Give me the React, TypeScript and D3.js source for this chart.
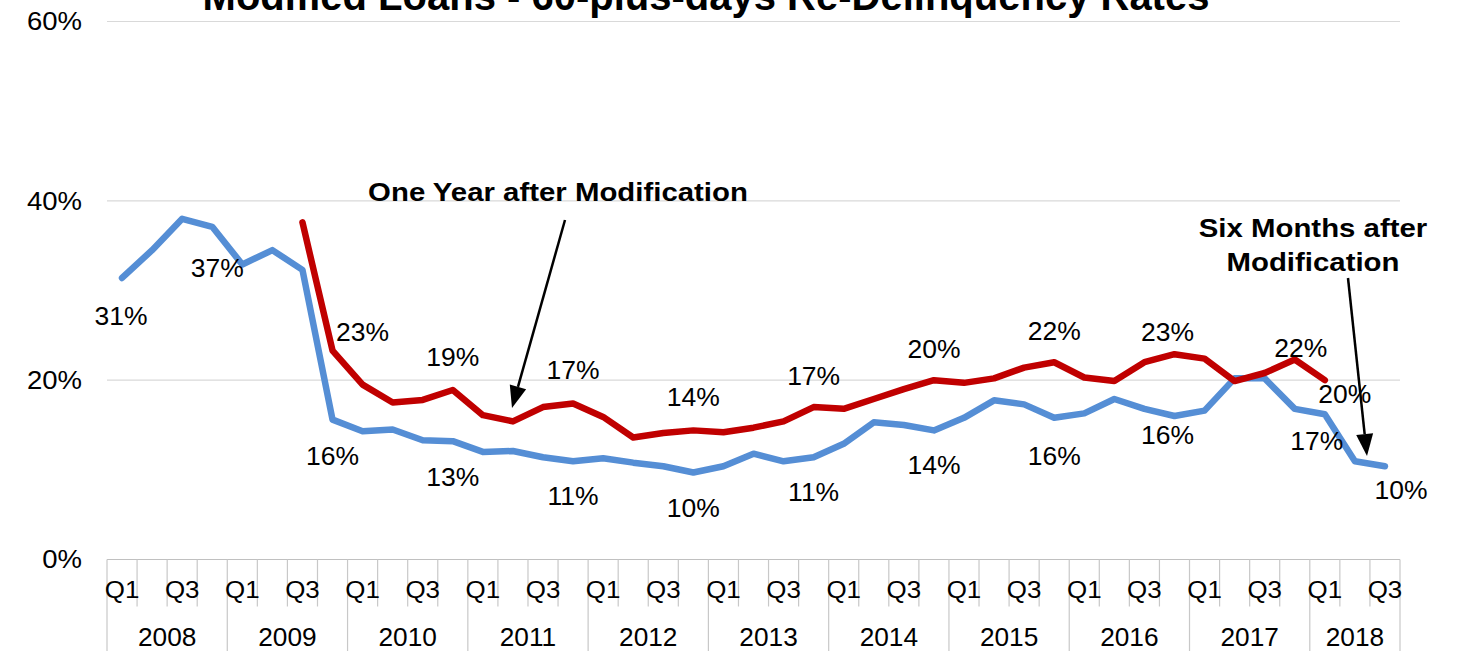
import React from "react";
import * as d3 from "d3";

const years = ["2008", "2009", "2010", "2011", "2012", "2013", "2014", "2015", "2016", "2017", "2018"];
const quarterNames = ["Q1", "Q2", "Q3", "Q4"];
const quarterTickText = ["Q1", "", "Q3", ""];
const quartersInYear = [4, 4, 4, 4, 4, 4, 4, 4, 4, 4, 3];

// Six Months after Modification (2008 Q1 .. 2018 Q3), percent
const sixMonths = [
  31.4, 34.5, 38.0, 37.1, 32.9, 34.5, 32.3, 15.6, 14.3, 14.5, 13.3,
  13.2, 12.0, 12.1, 11.4, 10.95, 11.3, 10.8, 10.4, 9.7, 10.4, 11.8,
  10.95, 11.4, 12.9, 15.3, 15.0, 14.4, 15.8, 17.75, 17.3, 15.8, 16.3,
  17.9, 16.8, 16.0, 16.6, 20.2, 20.2, 16.8, 16.2, 10.95, 10.4,
];

// One Year after Modification (2009 Q3 .. 2018 Q1), percent
const oneYearStart = 6;
const oneYear = [
  37.6, 23.3, 19.5, 17.5, 17.8, 18.9, 16.1, 15.4, 17.0, 17.4, 15.9,
  13.6, 14.1, 14.4, 14.2, 14.7, 15.4, 17.0, 16.8, 17.9, 19.0, 20.0,
  19.7, 20.2, 21.4, 22.0, 20.3, 19.9, 22.0, 22.9, 22.4, 19.9, 20.8,
  22.3, 20.0,
];

const yTicks = [0, 20, 40, 60];

// label placement (index into categories, offset of label centre from point)
const blueLabels = [
  { i: 0, dx: -1, dy: 38 },
  { i: 3, dx: 5, dy: 41 },
  { i: 7, dx: 0, dy: 37 },
  { i: 11, dx: 0, dy: 36 },
  { i: 15, dx: 0, dy: 35 },
  { i: 19, dx: 0, dy: 36 },
  { i: 23, dx: 0, dy: 35 },
  { i: 27, dx: 0, dy: 35 },
  { i: 31, dx: 0, dy: 38 },
  { i: 35, dx: -7, dy: 19 },
  { i: 39, dx: 22, dy: 32 },
  { i: 42, dx: 16, dy: 24 },
];
const redLabels = [
  { i: 7, dx: 30, dy: -18 },
  { i: 11, dx: 0, dy: -33 },
  { i: 15, dx: 0, dy: -33 },
  { i: 19, dx: 0, dy: -33 },
  { i: 23, dx: 0, dy: -31 },
  { i: 27, dx: 0, dy: -31 },
  { i: 31, dx: 0, dy: -31 },
  { i: 35, dx: -7, dy: -22 },
  { i: 39, dx: 6, dy: -11 },
  { i: 40, dx: 20, dy: 14 },
];

const categories: string[] = years.flatMap((y, yi) =>
  quarterNames.slice(0, quartersInYear[yi]).map((q) => `${y} ${q}`)
);

const FONT = "'Liberation Sans', Arial, Helvetica, sans-serif";
const BLUE = "#558ED5";
const RED = "#C00000";

function Txt(props: {
  x: number;
  y: number;
  size: number;
  sx?: number;
  anchor?: "start" | "middle" | "end";
  bold?: boolean;
  dy?: string;
  children: React.ReactNode;
}) {
  const { x, y, size, sx = 1, anchor = "middle", bold = false, dy, children } = props;
  return (
    <text
      transform={`translate(${x},${y}) scale(${sx},1)`}
      dy={dy}
      textAnchor={anchor}
      fontSize={size}
      fontWeight={bold ? "bold" : "normal"}
      fill="#000"
    >
      {children}
    </text>
  );
}

export default function App() {
  const W = 1457;
  const H = 651;
  const left = 107;
  const right = 1400;
  const y0 = 559.5;
  const y60 = 21.5;

  const x = d3.scaleBand<string>().domain(categories).range([left, right]).padding(0);
  const bw = x.bandwidth();
  const cx = (i: number) => (x(categories[i]) as number) + bw / 2;
  const y = d3.scaleLinear().domain([0, 60]).range([y0, y60]);
  const fmt = (v: number) => d3.format(".0f")(v) + "%";

  const blueData = sixMonths.map((v, i) => ({ i, v }));
  const redData = oneYear.map((v, k) => ({ i: k + oneYearStart, v }));
  const line = d3
    .line<{ i: number; v: number }>()
    .x((d) => cx(d.i))
    .y((d) => y(d.v));

  const yearStarts: number[] = [];
  let acc = 0;
  quartersInYear.forEach((n) => {
    yearStarts.push(acc);
    acc += n;
  });

  const arrow = (x1: number, y1: number, x2: number, y2: number, key: string) => {
    const ang = Math.atan2(y2 - y1, x2 - x1);
    const len = 22;
    const half = 8.5;
    const bx = x2 - len * Math.cos(ang);
    const by = y2 - len * Math.sin(ang);
    const px = -Math.sin(ang) * half;
    const py = Math.cos(ang) * half;
    return (
      <g key={key}>
        <line x1={x1} y1={y1} x2={bx} y2={by} stroke="#000" strokeWidth={2.5} />
        <polygon points={`${x2},${y2} ${bx + px},${by + py} ${bx - px},${by - py}`} fill="#000" />
      </g>
    );
  };

  return (
    <svg
      width={W}
      height={H}
      style={{ position: "absolute", left: 0, top: 0, background: "#fff" }}
      fontFamily={FONT}
    >
      <rect x={0} y={0} width={W} height={H} fill="#fff" />
      {yTicks.filter((t) => t > 0).map((t) => (
        <line key={t} x1={left} x2={right} y1={y(t)} y2={y(t)} stroke="#d9d9d9" strokeWidth={1.2} />
      ))}
      {yTicks.map((t) => (
        <Txt key={t} x={82} y={y(t)} dy="0.35em" anchor="end" size={25} sx={1.1}>
          {t}%
        </Txt>
      ))}
      <line x1={left} x2={right} y1={y0} y2={y0} stroke="#c0c0c0" strokeWidth={1.2} />
      {categories.map((c, i) =>
        i === 0 ? null : (
          <line
            key={c}
            x1={x(c) as number}
            x2={x(c) as number}
            y1={y0}
            y2={yearStarts.includes(i) ? H : 606.5}
            stroke="#c8c8c8"
            strokeWidth={1.2}
          />
        )
      )}
      <line x1={left} x2={left} y1={y0} y2={H} stroke="#c8c8c8" strokeWidth={1.2} />
      <line x1={right} x2={right} y1={y0} y2={H} stroke="#c8c8c8" strokeWidth={1.2} />
      {categories.map((c, i) => {
        const q = quarterNames.indexOf(c.split(" ")[1]);
        const txt = quarterTickText[q];
        return txt ? (
          <Txt key={c} x={cx(i)} y={598} size={24} sx={1.08}>
            {txt}
          </Txt>
        ) : null;
      })}
      {years.map((yr, yi) => {
        const s = x(categories[yearStarts[yi]]) as number;
        const e = s + quartersInYear[yi] * bw;
        return (
          <Txt key={yr} x={(s + e) / 2} y={646} size={25} sx={1.05}>
            {yr}
          </Txt>
        );
      })}
      <path d={line(blueData) as string} fill="none" stroke={BLUE} strokeWidth={6.5} strokeLinejoin="round" strokeLinecap="round" />
      <path d={line(redData) as string} fill="none" stroke={RED} strokeWidth={6.5} strokeLinejoin="round" strokeLinecap="round" />
      {blueLabels.map((l) => (
        <Txt key={"b" + l.i} x={cx(l.i) + l.dx} y={y(sixMonths[l.i]) + l.dy} dy="0.35em" size={25} sx={1.06}>
          {fmt(sixMonths[l.i])}
        </Txt>
      ))}
      {redLabels.map((l) => {
        const v = oneYear[l.i - oneYearStart];
        return (
          <Txt key={"r" + l.i} x={cx(l.i) + l.dx} y={y(v) + l.dy} dy="0.35em" size={25} sx={1.06}>
            {fmt(v)}
          </Txt>
        );
      })}
      <Txt x={706} y={10} size={40} bold>
        Modified Loans - 60-plus-days Re-Delinquency Rates
      </Txt>
      <Txt x={558} y={201} size={26} sx={1.13} bold>
        One Year after Modification
      </Txt>
      {arrow(565, 220, 512, 408, "a1")}
      <Txt x={1313} y={237} size={26} sx={1.13} bold>
        Six Months after
      </Txt>
      <Txt x={1313} y={271} size={26} sx={1.13} bold>
        Modification
      </Txt>
      {arrow(1348, 278, 1367, 456, "a2")}
    </svg>
  );
}
